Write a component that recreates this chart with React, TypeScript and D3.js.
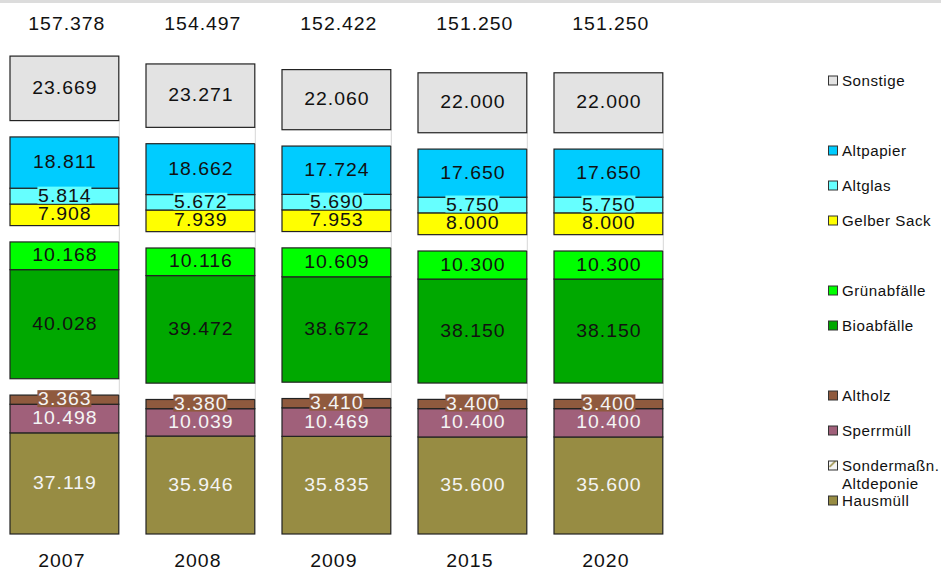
import React from 'react';
import * as d3 from 'd3';

const years = ['2007', '2008', '2009', '2015', '2020'];
const hausmuell = [37119, 35946, 35835, 35600, 35600];
const sondermassn = [0, 0, 0, 0, 0];
const sperrmuell = [10498, 10039, 10469, 10400, 10400];
const altholz = [3363, 3380, 3410, 3400, 3400];
const bioabfaelle = [40028, 39472, 38672, 38150, 38150];
const gruenabfaelle = [10168, 10116, 10609, 10300, 10300];
const gelberSack = [7908, 7939, 7953, 8000, 8000];
const altglas = [5814, 5672, 5690, 5750, 5750];
const altpapier = [18811, 18662, 17724, 17650, 17650];
const sonstige = [23669, 23271, 22060, 22000, 22000];
const spacer = [6000, 6000, 6000, 6000, 6000];

type Series = { key: string; name: string; values: number[]; color: string; text: string; boxed?: boolean; gap?: boolean; pattern?: boolean };

// bottom to top stacking order
const series: Series[] = [
  { key: 'haus', name: 'Hausmüll', values: hausmuell, color: '#978c43', text: '#f4f4f4' },
  { key: 'sonder', name: 'Sondermaßn.\nAltdeponie', values: sondermassn, color: '#ffffff', text: '#000', pattern: true },
  { key: 'sperr', name: 'Sperrmüll', values: sperrmuell, color: '#a0607a', text: '#f4f4f4' },
  { key: 'holz', name: 'Altholz', values: altholz, color: '#8f5a3e', text: '#f4f4f4', boxed: true },
  { key: 'gap1', name: '', values: spacer, color: 'none', text: '', gap: true },
  { key: 'bio', name: 'Bioabfälle', values: bioabfaelle, color: '#00a800', text: '#000' },
  { key: 'gruen', name: 'Grünabfälle', values: gruenabfaelle, color: '#00ff00', text: '#000' },
  { key: 'gap2', name: '', values: spacer, color: 'none', text: '', gap: true },
  { key: 'gelb', name: 'Gelber Sack', values: gelberSack, color: '#ffff00', text: '#000', boxed: true },
  { key: 'glas', name: 'Altglas', values: altglas, color: '#66ffff', text: '#000', boxed: true },
  { key: 'papier', name: 'Altpapier', values: altpapier, color: '#00ccff', text: '#000' },
  { key: 'gap3', name: '', values: spacer, color: 'none', text: '', gap: true },
  { key: 'sonst', name: 'Sonstige', values: sonstige, color: '#e3e3e3', text: '#000' },
];

const de = d3.formatLocale({ decimal: ',', thousands: '.', grouping: [3], currency: ['', '€'] });
const fmt = de.format(',d');

const SX = 1.08;
const FONT = '"Liberation Sans", Arial, sans-serif';

function T({ x, y, size, fill = '#111', anchor = 'middle', ls = 0.9, children }: any) {
  const dx = anchor === 'middle' ? ls / 2 : 0;
  return (
    <text transform={`translate(${x + dx},${y}) scale(${SX},1)`} fontSize={size} fill={fill} textAnchor={anchor} fontFamily={FONT} letterSpacing={ls}>
      {children}
    </text>
  );
}

export default function App() {
  const W = 941, H = 570;
  const x = d3.scaleBand<string>().domain(years).range([-3.6, 676.4]).paddingInner(0.2).paddingOuter(0.1);
  const y = d3.scaleLinear().domain([0, 180000]).range([534, 534 - 180 * 2.725]);

  const stackData = years.map((yr, i) => {
    const o: any = { year: yr };
    series.forEach(s => (o[s.key] = s.values[i]));
    return o;
  });
  const stacked = d3.stack<any>().keys(series.map(s => s.key))(stackData);

  const totals = years.map((_, i) => series.filter(s => !s.gap).reduce((a, s) => a + s.values[i], 0));

  const legendOrder = [...series].reverse();
  const legendY0 = 81, legendStep = 35;

  return (
    <div style={{ position: 'absolute', left: 0, top: 0 }}>
      <svg width={W} height={H} style={{ display: 'block', background: '#fff' }}>
        <defs>
          <pattern id="diag" width="9" height="9" patternUnits="userSpaceOnUse" x="828.5" y="0">
            <rect width="9" height="9" fill="#f4f4f4" />
            <path d="M1,8 L7,2" stroke="#978c43" strokeWidth="1.6" />
          </pattern>
        </defs>
        <rect x={0} y={0} width={W} height={3} fill="#dcdcdc" />

        {/* segments */}
        {stacked.map((layer, li) => {
          const s = series[li];
          return (
            <g key={s.key}>
              {layer.map((d, i) => {
                const x0 = x(years[i])!;
                const bw = x.bandwidth();
                const yTop = y(d[1]);
                const yBot = y(d[0]);
                if (s.gap) {
                  return <line key={i} x1={x0 + bw + 0.5} x2={x0 + bw + 0.5} y1={yTop} y2={yBot} stroke="#d6d6d6" strokeWidth={1} />;
                }
                if (d[1] - d[0] <= 0) return null;
                return <rect key={i} x={x0} y={yTop} width={bw} height={yBot - yTop} fill={s.color} stroke="#222" strokeWidth={1.2} />;
              })}
            </g>
          );
        })}

        {/* labels */}
        {stacked.map((layer, li) => {
          const s = series[li];
          if (s.gap) return null;
          return (
            <g key={s.key + '-l'}>
              {layer.map((d, i) => {
                if (d[1] - d[0] <= 0) return null;
                const cx = x(years[i])! + x.bandwidth() / 2;
                const cy = (y(d[1]) + y(d[0])) / 2 - 1;
                return (
                  <g key={i}>
                    {s.boxed && <rect x={cx - 27} y={cy - 8.5} width={54} height={17} fill={s.color} />}
                    <T x={cx} y={cy + 6.5} size={18} fill={s.text === '#000' ? '#111' : s.text}>{fmt(s.values[i])}</T>
                  </g>
                );
              })}
            </g>
          );
        })}

        {/* totals */}
        {years.map((yr, i) => (
          <T key={yr} x={x(yr)! + x.bandwidth() / 2 + 2} y={30} size={18}>{fmt(totals[i])}</T>
        ))}

        {/* year labels */}
        {years.map(yr => (
          <T key={yr} x={x(yr)! + x.bandwidth() / 2 - 3} y={567} size={18}>{yr}</T>
        ))}

        {/* legend */}
        {legendOrder.map((s, k) => {
          if (s.gap) return null;
          const cy = legendY0 + k * legendStep;
          const lines = s.name.split('\n');
          return (
            <g key={s.key + '-leg'}>
              <rect x={828.5} y={cy - 5} width={9} height={9} fill={s.pattern ? 'url(#diag)' : s.color} stroke="#333" strokeWidth={1} />
              {lines.map((ln, j) => (
                <T key={j} x={842} y={cy + 5 + j * 18} size={14} anchor="start" ls={0.5}>{ln}</T>
              ))}
            </g>
          );
        })}
      </svg>
    </div>
  );
}
